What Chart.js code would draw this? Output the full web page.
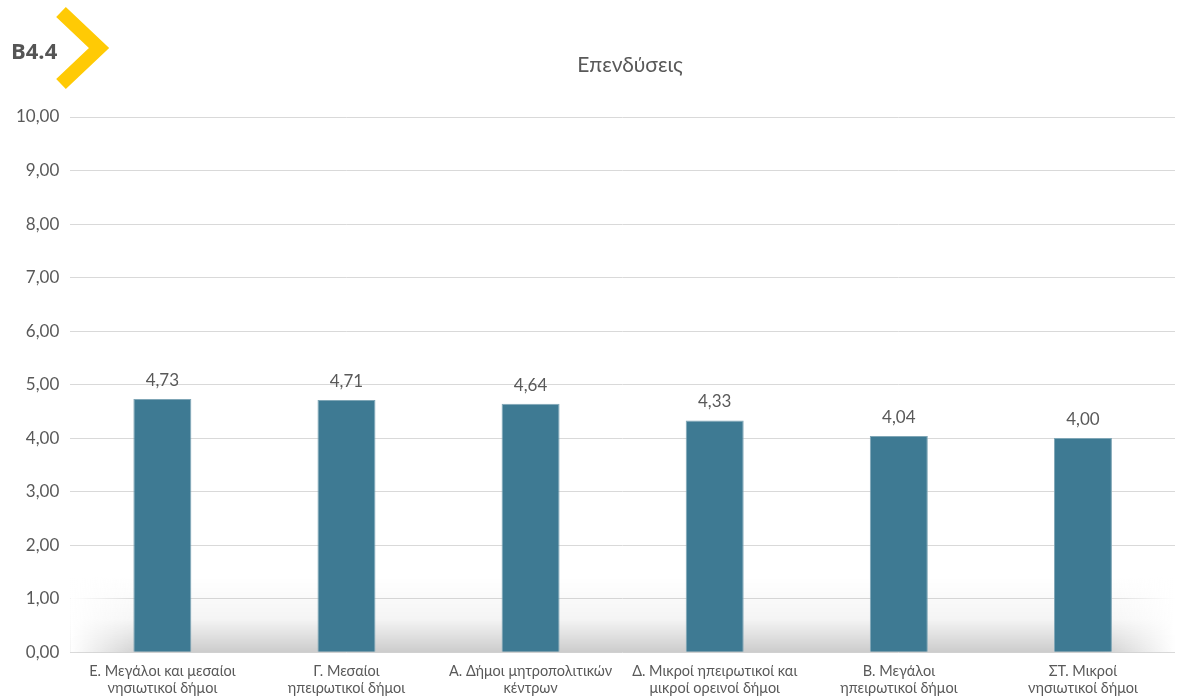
<!DOCTYPE html>
<html><head><meta charset="utf-8">
<script src="https://cdn.jsdelivr.net/npm/chart.js@4/dist/chart.umd.min.js"></script>
<style>
html,body{margin:0;padding:0;background:#fff;}
#wrap{position:relative;width:1186px;height:699px;}
#tag{position:absolute;left:11px;top:35px;font:bold 22px "Open Sans",sans-serif;color:#555;}
svg{position:absolute;left:0;top:0;}
</style></head>
<body><div id="wrap">
<canvas id="c" width="1186" height="699"></canvas>
<svg width="120" height="100"><polyline points="61,12 99,48 61,84" fill="none" stroke="#FFCA05" stroke-width="14"/></svg>
<div id="tag">B4.4</div>
</div>
<script>
const categories = [
  ["Ε. Μεγάλοι και μεσαίοι","νησιωτικοί δήμοι"],
  ["Γ. Μεσαίοι","ηπειρωτικοί δήμοι"],
  ["Α. Δήμοι μητροπολιτικών","κέντρων"],
  ["Δ. Μικροί ηπειρωτικοί και","μικροί ορεινοί δήμοι"],
  ["Β. Μεγάλοι","ηπειρωτικοί δήμοι"],
  ["ΣΤ. Μικροί","νησιωτικοί δήμοι"]
];
const values = [4.73, 4.71, 4.64, 4.33, 4.04, 4.00];
const title = "Επενδύσεις";
const fmt = v => v.toFixed(2).replace('.', ',');

const shadowPlugin = {
  id:'shadow',
  beforeDatasetsDraw(chart){
    const {ctx, chartArea:a, scales:{y}} = chart;
    const top = y.getPixelForValue(1.4), bot = y.getPixelForValue(0);
    ctx.save();
    const g = ctx.createLinearGradient(0, top, 0, bot);
    g.addColorStop(0, 'rgba(0,0,0,0)');
    g.addColorStop(0.55, 'rgba(0,0,0,0.04)');
    g.addColorStop(1, 'rgba(0,0,0,0.2)');
    ctx.fillStyle = g;
    ctx.fillRect(a.left, top, a.right - a.left, bot - top);
    const w = 75;
    let h = ctx.createLinearGradient(a.left, 0, a.left + w, 0);
    h.addColorStop(0, 'rgba(255,255,255,1)'); h.addColorStop(1, 'rgba(255,255,255,0)');
    ctx.fillStyle = h; ctx.fillRect(a.left, top, w, bot - top);
    h = ctx.createLinearGradient(a.right - w, 0, a.right, 0);
    h.addColorStop(0, 'rgba(255,255,255,0)'); h.addColorStop(1, 'rgba(255,255,255,1)');
    ctx.fillStyle = h; ctx.fillRect(a.right - w, top, w, bot - top);
    ctx.restore();
  }
};
const labelPlugin = {
  id:'vals',
  afterDatasetsDraw(chart){
    const {ctx} = chart;
    ctx.save();
    ctx.font = '17px Lato, sans-serif';
    ctx.fillStyle = '#595959';
    ctx.textAlign = 'center';
    ctx.textBaseline = 'bottom';
    chart.getDatasetMeta(0).data.forEach((bar, i) => {
      ctx.fillText(fmt(values[i]), bar.x, bar.y - 10);
    });
    ctx.font = '21px Lato, sans-serif';
    ctx.textBaseline = 'middle';
    ctx.fillText(title, 630, 65);
    ctx.restore();
  }
};

new Chart(document.getElementById('c'), {
  type:'bar',
  data:{ labels: categories, datasets:[{ data: values, backgroundColor:'#3e7a93', borderColor:'#7fa6b6', borderWidth:1, barPercentage:0.63, categoryPercentage:0.5 }]},
  options:{
    responsive:false, animation:false,
    layout:{ padding:{ left:5, right:11, top:117, bottom:0 } },
    plugins:{ legend:{display:false}, tooltip:{enabled:false}, title:{display:false} },
    scales:{
      x:{ grid:{display:false}, border:{display:false},
          ticks:{ color:'#595959', font:{family:'Lato, sans-serif', size:14.5}, maxRotation:0, autoSkip:false, padding:2 } },
      y:{ min:0, max:10, border:{display:false},
          grid:{ color:'#d9d9d9', lineWidth:1, drawTicks:false },
          ticks:{ stepSize:1, color:'#595959', padding:11, font:{family:'Lato, sans-serif', size:17}, callback: v => fmt(v) } }
    }
  },
  plugins:[shadowPlugin, labelPlugin]
});
</script>
</body></html>
